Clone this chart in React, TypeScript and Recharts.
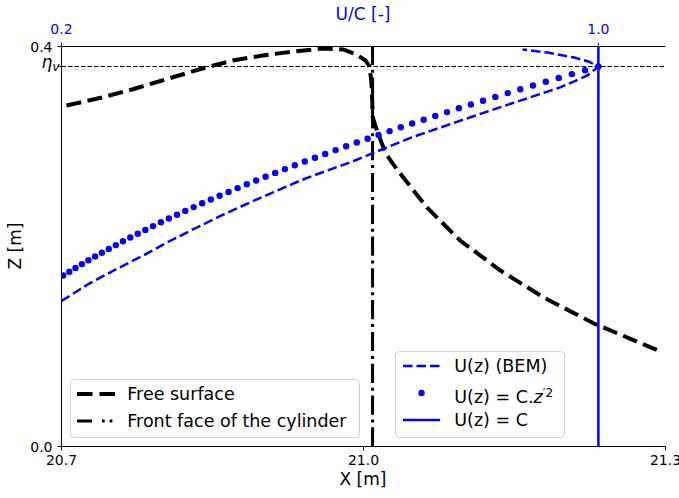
import type { CSSProperties, ReactNode } from "react"
import { ComposedChart, Line, ReferenceLine, Scatter, XAxis, YAxis } from "recharts"

const FONT = "'DejaVu Sans', sans-serif"
const BLUE = "#0000ff"

// free surface elevation, X [m] / Z [m]
const freeSurfaceX = [
  20.705, 20.74, 20.77, 20.8, 20.84, 20.87, 20.9, 20.93, 20.96, 20.98, 20.993, 21.002, 21.006,
  21.0077, 21.0087, 21.009, 21.012, 21.022, 21.034, 21.045, 21.063, 21.096, 21.136, 21.179,
  21.229, 21.295,
]
const freeSurfaceZ = [
  0.341, 0.349, 0.357, 0.366, 0.378, 0.386, 0.391, 0.395, 0.398, 0.397, 0.392, 0.386, 0.38, 0.366,
  0.345, 0.33, 0.32, 0.293, 0.276, 0.262, 0.239, 0.206, 0.176, 0.149, 0.123, 0.095,
]

// velocity profile from BEM, U/C [-] / Z [m]
const bemU = [
  0.2, 0.2407, 0.2805, 0.32, 0.36, 0.4, 0.4415, 0.4817, 0.516, 0.556, 0.596, 0.631, 0.72, 0.795,
  0.869, 0.944, 0.9836, 1.0, 0.985, 0.964, 0.924, 0.887,
]
const bemZ = [
  0.1455, 0.1627, 0.177, 0.1903, 0.205, 0.2185, 0.232, 0.2443, 0.2543, 0.266, 0.276, 0.2843,
  0.3087, 0.326, 0.3427, 0.3593, 0.371, 0.38, 0.385, 0.389, 0.394, 0.397,
]

// U(z) = C.z'^2 markers
const powerU = [
  0.2025, 0.2116, 0.2209, 0.2304, 0.2401, 0.25, 0.2601, 0.2704, 0.2809, 0.2916, 0.3025, 0.3136,
  0.3249, 0.3364, 0.3481, 0.36, 0.3721, 0.3844, 0.3969, 0.4096, 0.4225, 0.4356, 0.4489, 0.4624,
  0.4761, 0.49, 0.5041, 0.5184, 0.5329, 0.5476, 0.5625, 0.5776, 0.5929, 0.6084, 0.6241, 0.64,
  0.6561, 0.6724, 0.6889, 0.7056, 0.7225, 0.7396, 0.7569, 0.7744, 0.7921, 0.81, 0.8281, 0.8464,
  0.8649, 0.8836, 0.9025, 0.9216, 0.9409, 0.9604, 0.9801, 1.0,
]
const powerZ = [
  0.171, 0.1748, 0.1786, 0.1824, 0.1862, 0.19, 0.1938, 0.1976, 0.2014, 0.2052, 0.209, 0.2128,
  0.2166, 0.2204, 0.2242, 0.228, 0.2318, 0.2356, 0.2394, 0.2432, 0.247, 0.2508, 0.2546, 0.2584,
  0.2622, 0.266, 0.2698, 0.2736, 0.2774, 0.2812, 0.285, 0.2888, 0.2926, 0.2964, 0.3002, 0.304,
  0.3078, 0.3116, 0.3154, 0.3192, 0.323, 0.3268, 0.3306, 0.3344, 0.3382, 0.342, 0.3458, 0.3496,
  0.3534, 0.3572, 0.361, 0.3648, 0.3686, 0.3724, 0.3762, 0.38,
]

const cylinderX = 21.009
const etaV = 0.38
const uniformU = 1.0

const xTicks = [20.7, 21.0, 21.3]
const uTicks = [0.2, 1.0]
const zTicks = [0, etaV, 0.4]

const freeSurface = freeSurfaceX.map((X, i) => ({ X, z: freeSurfaceZ[i] }))
const bem = bemU.map((u, i) => ({ u, z: bemZ[i] }))
const powerLaw = powerU.map((u, i) => ({ u, z: powerZ[i] }))

const ZTick = ({ x, y, payload }: any) => {
  if (payload.value === etaV) {
    return (
      <text x={x + 7} y={y} dy={1.5} textAnchor="end" fill="#000" fontFamily={FONT}>
        <tspan fontStyle="italic" fontSize={17}>η</tspan>
        <tspan fontStyle="italic" fontSize={12} dy={2.5}>v</tspan>
      </text>
    )
  }
  return (
    <text x={x} y={y} dy="0.36em" textAnchor="end" fontSize={14} fill="#000" fontFamily={FONT}>
      {Number(payload.value).toFixed(1)}
    </text>
  )
}

const Title = ({ tx, ty, rot, color, text }: any) => (
  <text
    x={tx}
    y={ty}
    textAnchor="middle"
    fontSize={17}
    fill={color ?? "#000"}
    fontFamily={FONT}
    transform={rot ? `rotate(${rot} ${tx} ${ty})` : undefined}
  >
    {text}
  </text>
)

const dotShape = (p: any) => <circle cx={p.cx} cy={p.cy} r={3.2} fill={BLUE} />

const boxStyle = (left: number, top: number, width: number, height: number): CSSProperties => ({
  position: "absolute",
  left,
  top,
  width,
  height,
  boxSizing: "border-box",
  border: "1px solid #d4d4d4",
  borderRadius: 4,
  background: "rgba(255,255,255,0.8)",
})

const Row = ({ top, handleLeft, textLeft, handle, children }: { top: number; handleLeft: number; textLeft: number; handle: ReactNode; children: ReactNode }) => (
  <div style={{ position: "absolute", top: top - 10, left: 0, right: 0, height: 20 }}>
    <svg width={38} height={20} style={{ position: "absolute", left: handleLeft, top: 0 }}>
      {handle}
    </svg>
    <span style={{ position: "absolute", left: textLeft, top: 0, lineHeight: "20px", fontSize: 17.5, whiteSpace: "nowrap" }}>
      {children}
    </span>
  </div>
)

export default function App() {
  return (
    <div style={{ position: "absolute", left: 0, top: 0, width: 679, height: 498, fontFamily: FONT, background: "#fff" }}>
      <ComposedChart width={679} height={498} margin={{ top: 0.5, right: 13.5, bottom: 0, left: 0.5 }} style={{ overflow: "visible" }}>
        <XAxis
          xAxisId="x"
          dataKey="X"
          type="number"
          domain={[20.7, 21.3]}
          ticks={xTicks}
          interval={0}
          allowDataOverflow
          height={51.5}
          tickSize={4}
          tickMargin={5}
          tickFormatter={(v: number) => v.toFixed(1)}
          tick={{ fontSize: 14, fill: "#000", fontFamily: FONT }}
          axisLine={{ stroke: "#000" }}
          tickLine={{ stroke: "#000" }}
          label={{ content: () => <Title tx={363} ty={485} text="X [m]" /> }}
        />
        <XAxis
          xAxisId="u"
          orientation="top"
          dataKey="u"
          type="number"
          domain={[0.2, 1.1]}
          ticks={uTicks}
          interval={0}
          allowDataOverflow
          height={46}
          tickSize={4}
          tickMargin={9}
          tickFormatter={(v: number) => v.toFixed(1)}
          tick={{ fontSize: 14, fill: BLUE, fontFamily: FONT }}
          axisLine={{ stroke: "#000" }}
          tickLine={{ stroke: BLUE }}
          label={{ content: () => <Title tx={363} ty={20} color={BLUE} text="U/C [-]" /> }}
        />
        <YAxis
          dataKey="z"
          type="number"
          domain={[0, 0.4]}
          ticks={zTicks}
          interval={0}
          allowDataOverflow
          width={61}
          tickSize={4}
          tickMargin={5}
          tick={<ZTick />}
          axisLine={{ stroke: "#000" }}
          tickLine={{ stroke: "#000" }}
          label={{ content: () => <Title tx={21} ty={246} rot={-90} text="Z [m]" /> }}
        />
        <YAxis yAxisId="right" orientation="right" type="number" domain={[0, 0.4]} width={0} tick={false} tickLine={false} axisLine={{ stroke: "#000" }} />

        <Line
          xAxisId="x"
          data={freeSurface}
          dataKey="z"
          type="linear"
          stroke="#000"
          strokeWidth={4}
          strokeDasharray="15 6.5"
          dot={false}
          activeDot={false}
          isAnimationActive={false}
        />
        <ReferenceLine xAxisId="x" x={cylinderX} stroke="#000" strokeWidth={3} strokeDasharray="19.2 4.8 3 4.8" />
        <ReferenceLine xAxisId="x" y={etaV} stroke="#000" strokeWidth={1.2} strokeDasharray="4.5 2" />
        <Line
          xAxisId="u"
          data={bem}
          dataKey="z"
          type="linear"
          stroke={BLUE}
          strokeWidth={2.5}
          strokeDasharray="9.5 4"
          dot={false}
          activeDot={false}
          isAnimationActive={false}
        />
        <Scatter xAxisId="u" data={powerLaw} dataKey="z" fill={BLUE} shape={dotShape} isAnimationActive={false} />
        <ReferenceLine xAxisId="u" x={uniformU} stroke={BLUE} strokeWidth={2.5} />
      </ComposedChart>

      <div style={boxStyle(70, 379, 290, 59)}>
        <Row top={14.3} handleLeft={5.7} textLeft={56.3} handle={<line x1={0} y1={10} x2={38} y2={10} stroke="#000" strokeWidth={4} strokeDasharray="15.5 7" />}>
          Free surface
        </Row>
        <Row top={41} handleLeft={5.7} textLeft={56.3} handle={<line x1={0} y1={10} x2={38} y2={10} stroke="#000" strokeWidth={3} strokeDasharray="15 10 2.7 5 2.7 10" />}>
          Front face of the cylinder
        </Row>
      </div>

      <div style={boxStyle(395, 351, 170, 87)}>
        <Row top={14} handleLeft={7} textLeft={58.3} handle={<line x1={0} y1={10} x2={37} y2={10} stroke={BLUE} strokeWidth={2.5} strokeDasharray="9.5 4" />}>
          U(z) (BEM)
        </Row>
        <Row top={41.3} handleLeft={7} textLeft={58.3} handle={<circle cx={18.5} cy={10} r={3.2} fill={BLUE} />}>
          U(z) = C.<i>z</i>
          <sup style={{ fontSize: 12, verticalAlign: "6px" }}>′2</sup>
        </Row>
        <Row top={68} handleLeft={7} textLeft={58.3} handle={<line x1={0} y1={10} x2={37} y2={10} stroke={BLUE} strokeWidth={2.5} />}>
          U(z) = C
        </Row>
      </div>
    </div>
  )
}
